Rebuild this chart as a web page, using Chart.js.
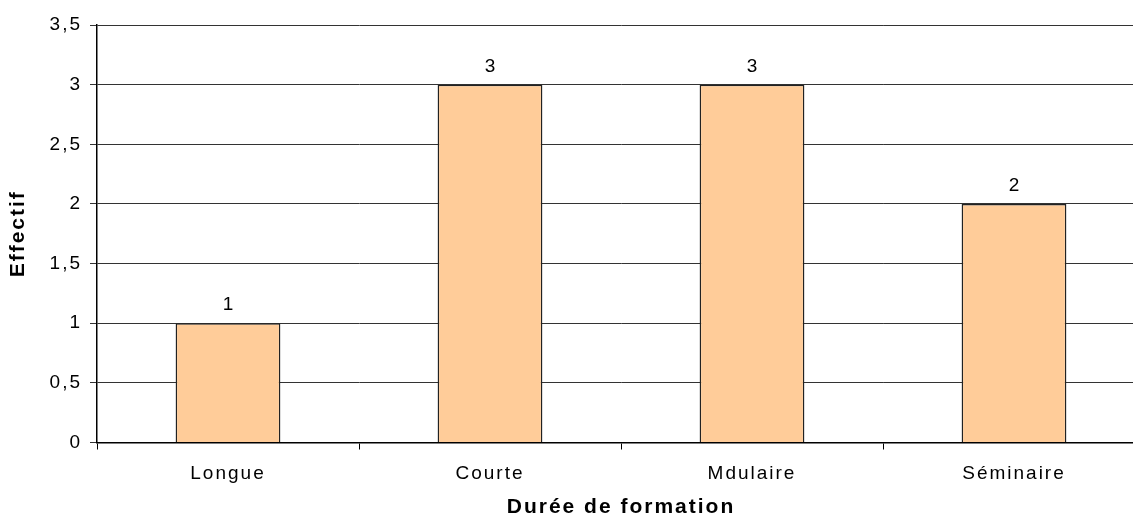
<!DOCTYPE html>
<html>
<head>
<meta charset="utf-8">
<script src="https://cdn.jsdelivr.net/npm/chart.js@4/dist/chart.umd.min.js"></script>
<style>
  html, body { margin: 0; padding: 0; background: #fff; overflow: hidden; }
  #wrap { width: 1133px; height: 520px; overflow: hidden; }
</style>
</head>
<body>
<div id="wrap"><canvas id="chart" width="1160" height="520"></canvas></div>
<script>
// Chart data
const categories = ["Longue", "Courte", "Mdulaire", "Séminaire"];
const effectifs = [1, 3, 3, 2];
const yTicks = [0, 0.5, 1, 1.5, 2, 2.5, 3, 3.5];

const FONT = "'Liberation Sans', Arial, sans-serif";
const SPACING = '2px';

// the original text is spaced out, canvas letterSpacing gets close to it
const spacedText = {
    id: 'spacedText',
    beforeUpdate(chart) { chart.ctx.letterSpacing = SPACING; },
    beforeLayout(chart) { chart.ctx.letterSpacing = SPACING; },
    beforeDraw(chart) { chart.ctx.letterSpacing = SPACING; }
};

// value labels above the bars
const barLabels = {
    id: 'barLabels',
    afterDatasetsDraw(chart) {
        const ctx = chart.ctx;
        const meta = chart.getDatasetMeta(0);
        ctx.save();
        ctx.letterSpacing = SPACING;
        ctx.font = "19px " + FONT;
        ctx.fillStyle = '#000';
        ctx.textAlign = 'center';
        ctx.textBaseline = 'alphabetic';
        meta.data.forEach((bar, i) => {
            ctx.fillText(String(effectifs[i]), bar.x + 1, bar.y - 13);
        });
        ctx.restore();
    }
};

const fmt = v => String(v).replace('.', ',');

new Chart(document.getElementById('chart'), {
    type: 'bar',
    data: {
        labels: categories,
        datasets: [{
            data: effectifs,
            backgroundColor: '#FFCC99',
            borderColor: '#222',
            borderWidth: 1.5,
            categoryPercentage: 0.8,
            barPercentage: 0.5
        }]
    },
    options: {
        responsive: false,
        animation: false,
        layout: { padding: { left: 0, right: 15, top: 25, bottom: 0 } },
        plugins: { legend: { display: false }, tooltip: { enabled: false } },
        scales: {
            y: {
                min: 0,
                max: 3.5,
                afterBuildTicks: axis => { axis.ticks = yTicks.map(v => ({ value: v })); },
                afterFit: axis => { axis.width = 97; },
                border: { display: true, color: '#000', width: 1.5 },
                grid: { color: '#333', lineWidth: 1, tickLength: 7 },
                ticks: {
                    color: '#000',
                    padding: 8,
                    font: { family: FONT, size: 19 },
                    callback: v => fmt(v)
                },
                title: {
                    display: true,
                    text: 'Effectif',
                    color: '#000',
                    font: { family: FONT, size: 21, weight: 'bold' },
                    padding: { top: 6, bottom: 0 }
                }
            },
            x: {
                afterFit: axis => { axis.height = 77.5; },
                border: { display: true, color: '#000', width: 1.5 },
                grid: { display: true, drawOnChartArea: false, color: '#000', tickLength: 7, offset: true },
                ticks: {
                    color: '#000',
                    padding: 13,
                    font: { family: FONT, size: 19 }
                },
                title: {
                    display: true,
                    text: 'Durée de formation',
                    color: '#000',
                    font: { family: FONT, size: 21, weight: 'bold' },
                    padding: { top: 4, bottom: 0 }
                }
            }
        }
    },
    plugins: [spacedText, barLabels]
});
</script>
</body>
</html>
